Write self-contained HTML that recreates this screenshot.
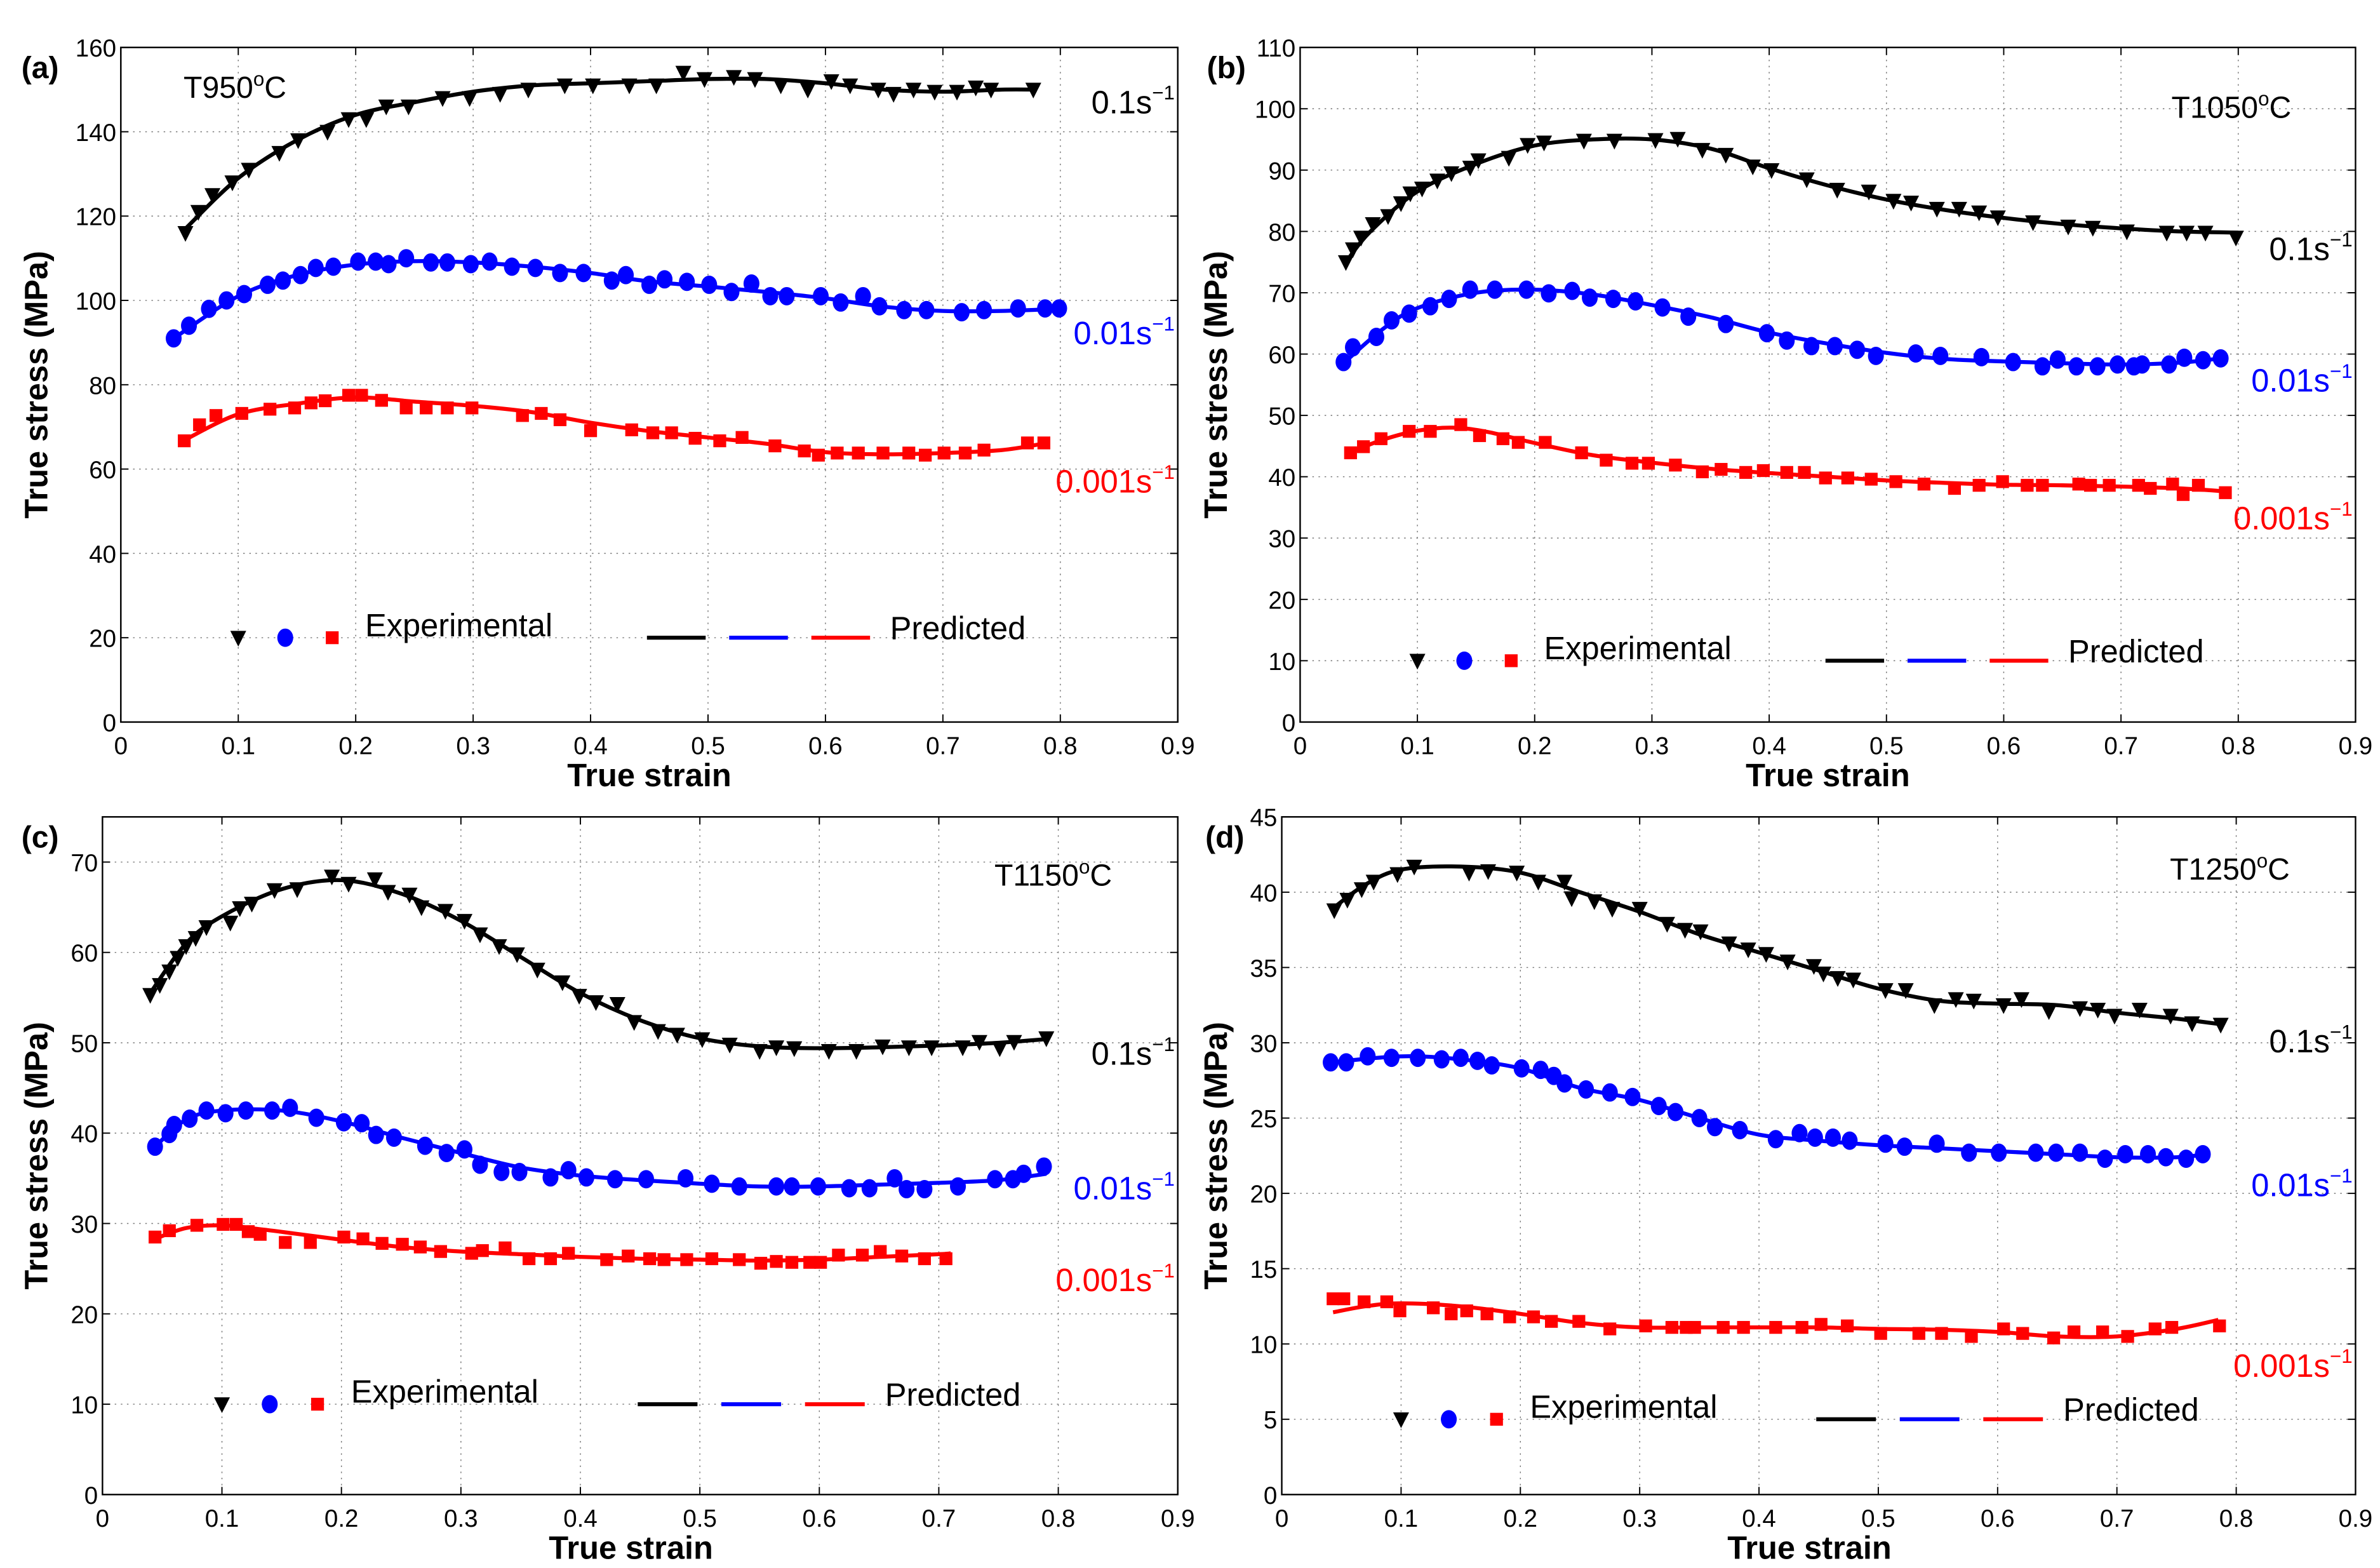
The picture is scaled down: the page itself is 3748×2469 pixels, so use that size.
<!DOCTYPE html>
<html><head><meta charset="utf-8"><style>
html,body{margin:0;padding:0;background:#fff}
svg{display:block}
text{font-family:"Liberation Sans",sans-serif}
</style></head><body>
<svg id="chart" xmlns="http://www.w3.org/2000/svg" width="3748" height="2469" viewBox="0 0 1556 1025"></svg>
<script>
// ---------- data ----------
const xTicks=[0,0.1,0.2,0.3,0.4,0.5,0.6,0.7,0.8,0.9];
// panel a (950C)
const aBlkX=[.055,.066,.078,.095,.109,.135,.151,.176,.194,.209,.226,.245,.274,.297,.323,.347,.378,.402,.433,.456,.479,.497,.522,.54,.562,.585,.605,.621,.645,.658,.675,.693,.712,.728,.741,.777];
const aBlkY=[116,121,125,128,131,135,138,140,143,143,146,146,148,148,149,150,151,151,151,151,154,152.5,153,152.5,151,150,152,151,150,149,150,149.5,149.5,150.5,150,150];
const aBluX=[.045,.058,.075,.09,.105,.125,.138,.153,.166,.181,.202,.217,.228,.243,.264,.278,.298,.314,.333,.353,.374,.394,.418,.43,.45,.463,.482,.501,.52,.537,.553,.567,.596,.613,.632,.646,.667,.686,.716,.735,.764,.787,.799];
const aBluY=[91,94,98,100,101.5,103.7,104.7,106,107.7,108,109.2,109.2,108.6,110,109,109,108.6,109.2,108,107.7,106.5,106.5,104.7,106,103.7,105,104.4,103.7,102,104,101,101,101,99.5,101,98.6,97.7,97.7,97.2,97.7,98.1,98.1,98.1];
const aRedX=[.054,.067,.081,.103,.127,.148,.162,.174,.194,.205,.222,.243,.26,.278,.299,.342,.358,.374,.4,.435,.453,.469,.489,.51,.529,.557,.582,.594,.61,.628,.649,.671,.685,.701,.719,.735,.772,.786];
const aRedY=[66.7,70.5,72.7,73.2,74.2,74.5,75.7,76.2,77.5,77.5,76.3,74.5,74.5,74.5,74.5,72.7,73.2,71.7,69.1,69.3,68.6,68.6,67.3,66.7,67.5,65.5,64.3,63.3,63.8,63.8,63.8,63.8,63.3,63.8,63.8,64.5,66.2,66.2];
const aPBlkX=[.055,.1,.15,.2,.25,.3,.35,.4,.45,.5,.55,.6,.65,.7,.75,.78];
const aPBlkY=[117,129,138,144,147,149.5,151,151.5,152,152.5,152.5,151.5,150,149.5,150,150];
const aPBluX=[.045,.1,.15,.2,.25,.3,.35,.4,.45,.5,.55,.6,.65,.7,.75,.8];
const aPBluY=[91,101,106,108.5,109.3,109,108,106.5,104.5,103.3,102,100.5,98.5,97.5,97.5,98];
const aPRedX=[.055,.1,.15,.2,.25,.3,.35,.4,.45,.5,.55,.6,.65,.7,.75,.785];
const aPRedY=[67,73,75.5,77,76,75,73.5,71,69,67.5,66,64,63.5,63.8,64.5,66];
// panel b (1050C)
const bBlkX=[.039,.045,.052,.062,.075,.086,.094,.104,.117,.129,.145,.152,.178,.194,.208,.242,.268,.303,.322,.343,.363,.386,.402,.432,.458,.485,.506,.521,.543,.562,.579,.595,.625,.655,.676,.705,.739,.756,.772,.798];
const bBlkY=[75,77.1,79,81.2,82.5,84.6,86.2,87,88.3,89.5,90.4,91.6,92,94.1,94.5,94.8,94.8,94.9,95.1,93.3,92.5,90.6,90,88.5,86.8,86.5,85,84.7,83.7,83.7,83.1,82.3,81.5,80.8,80.6,80,79.8,79.8,79.8,79];
const bBluX=[.037,.045,.065,.078,.093,.111,.127,.145,.166,.193,.212,.232,.247,.267,.286,.309,.331,.363,.398,.415,.436,.456,.475,.491,.525,.546,.581,.608,.633,.646,.662,.68,.697,.711,.718,.741,.754,.77,.785];
const bBluY=[58.7,61.1,62.8,65.5,66.6,67.8,69,70.5,70.5,70.5,69.9,70.3,69.2,69,68.6,67.6,66.1,64.9,63.4,62.2,61.3,61.3,60.7,59.7,60.1,59.7,59.5,58.7,58,59.1,58,58,58.3,58,58.3,58.3,59.4,59,59.3];
const bRedX=[.043,.054,.069,.093,.111,.137,.153,.173,.186,.209,.24,.261,.283,.297,.32,.343,.359,.38,.395,.415,.43,.448,.467,.487,.508,.532,.558,.579,.599,.62,.633,.664,.674,.69,.715,.725,.744,.753,.766,.789];
const bRedY=[43.9,44.9,46.2,47.4,47.4,48.5,46.7,46.2,45.6,45.6,43.9,42.7,42.2,42.2,41.9,40.8,41.2,40.7,41,40.7,40.7,39.8,39.8,39.6,39.2,38.8,38.1,38.6,39.2,38.6,38.6,38.8,38.6,38.6,38.6,38.1,38.8,37.1,38.6,37.4];
const bPBlkX=[.039,.06,.1,.15,.2,.25,.3,.35,.4,.45,.5,.55,.6,.65,.7,.75,.8];
const bPBlkY=[75,80,86.5,91,94,95,95,93.5,90.3,87.5,85.2,83.5,82.2,81.2,80.5,80,79.8];
const bPBluX=[.037,.07,.1,.15,.2,.25,.3,.35,.4,.45,.5,.55,.6,.65,.7,.75,.785];
const bPBluY=[58.5,64,67.5,70,70.5,69.7,68,66,63.5,61.7,60.2,59.2,58.8,58.5,58.3,58.6,59.3];
const bPRedX=[.043,.07,.1,.13,.16,.2,.25,.3,.35,.4,.45,.5,.55,.6,.65,.7,.75,.79];
const bPRedY=[44,46,47.5,48,47.3,45.5,43.5,42.3,41.3,40.6,40,39.4,39,38.7,38.6,38.4,38.1,37.6];
// panel c (1150C)
const cBlkX=[.04,.048,.056,.063,.07,.078,.087,.107,.115,.125,.144,.163,.192,.206,.228,.239,.257,.267,.287,.303,.316,.332,.347,.364,.385,.399,.413,.431,.445,.465,.481,.502,.525,.55,.564,.579,.608,.631,.653,.675,.694,.72,.734,.751,.763,.79];
const cBlkY=[55.3,56.4,57.9,59.4,60.7,61.6,62.8,63.3,64.9,65.4,66.9,67,68.4,67.6,68.1,66.7,66.4,65,64.6,63.5,62,60.7,59.8,58.1,56.7,55.2,54.5,54.3,52.3,51.3,50.9,50.4,49.8,49.1,49.5,49.4,49.1,49.1,49.6,49.5,49.5,49.5,50.1,49.4,50.1,50.5];
const cBluX=[.044,.056,.06,.073,.087,.103,.12,.142,.157,.179,.202,.217,.229,.244,.27,.288,.303,.316,.334,.349,.375,.39,.405,.429,.455,.488,.51,.533,.564,.577,.599,.625,.642,.663,.673,.688,.716,.747,.762,.771,.788];
const cBluY=[38.5,39.9,40.9,41.6,42.5,42.2,42.5,42.5,42.8,41.7,41.2,41.1,39.8,39.5,38.6,37.8,38.2,36.5,35.7,35.7,35.1,35.9,35.1,34.9,34.9,35,34.4,34.1,34.1,34.1,34.1,33.9,33.9,35,33.8,33.8,34.1,34.9,34.9,35.5,36.3];
const cRedX=[.044,.056,.079,.101,.112,.122,.132,.153,.174,.202,.218,.234,.251,.266,.283,.309,.318,.337,.357,.375,.39,.422,.44,.458,.47,.489,.51,.533,.551,.564,.577,.592,.601,.616,.636,.651,.669,.688,.706];
const cRedY=[28.5,29.2,29.8,29.9,29.9,29.1,28.8,27.9,27.9,28.5,28.3,27.8,27.7,27.4,26.9,26.7,27,27.3,26.1,26.1,26.7,26,26.4,26.1,26,26,26.1,26,25.6,25.8,25.7,25.7,25.7,26.5,26.5,26.9,26.4,26.1,26.1];
const cPBlkX=[.04,.07,.1,.15,.2,.25,.3,.35,.4,.45,.5,.55,.6,.65,.7,.75,.79];
const cPBlkY=[55.5,61,64,67,68,66.5,63.5,59.5,55.5,52.5,50.5,49.6,49.4,49.5,49.7,50,50.4];
const cPBluX=[.044,.07,.1,.15,.2,.25,.3,.35,.4,.45,.5,.55,.6,.65,.7,.75,.79];
const cPBluY=[38.5,41.5,42.5,42.5,41.3,39.5,37.8,36.2,35.3,34.8,34.4,34.1,34.1,34.3,34.5,34.8,35.5];
const cPRedX=[.044,.07,.1,.13,.16,.2,.25,.3,.35,.4,.45,.5,.55,.6,.65,.7,.71];
const cPRedY=[28.3,29.5,29.8,29.4,28.9,28.2,27.4,26.9,26.6,26.3,26.1,26,25.9,26,26.3,26.6,26.7];
// panel d (1250C)
const dBlkX=[.044,.055,.067,.077,.097,.111,.157,.173,.197,.215,.237,.243,.262,.277,.3,.323,.338,.351,.375,.391,.406,.424,.446,.454,.466,.479,.506,.523,.547,.565,.58,.605,.62,.643,.669,.684,.698,.719,.745,.763,.787];
const dBlkY=[38.8,39.5,40.2,40.7,41.2,41.7,41.3,41.4,41.3,40.7,40.7,39.6,39.4,38.9,38.9,37.9,37.5,37.4,36.6,36.2,35.9,35.4,35.1,34.6,34.3,34.2,33.5,33.5,32.5,32.9,32.8,32.5,32.9,32.1,32.3,32.2,31.8,32.2,31.8,31.3,31.2];
const dBluX=[.041,.054,.072,.092,.114,.134,.15,.164,.176,.201,.217,.228,.237,.255,.275,.294,.316,.33,.35,.363,.384,.414,.434,.447,.462,.476,.506,.522,.549,.576,.601,.632,.649,.669,.69,.707,.726,.741,.758,.772];
const dBluY=[28.7,28.7,29.1,29,29,28.9,29,28.8,28.5,28.3,28.2,27.8,27.3,26.9,26.7,26.4,25.8,25.4,25,24.4,24.2,23.6,24,23.7,23.7,23.5,23.3,23.1,23.3,22.7,22.7,22.7,22.7,22.7,22.3,22.6,22.6,22.4,22.3,22.6];
const dRedX=[.043,.052,.069,.088,.099,.127,.142,.155,.172,.191,.211,.226,.249,.275,.305,.327,.339,.346,.37,.387,.414,.436,.452,.474,.502,.534,.553,.578,.605,.621,.647,.664,.688,.709,.732,.746,.786];
const dRedY=[13,13,12.8,12.8,12.2,12.4,12,12.2,12,11.8,11.8,11.5,11.5,11,11.2,11.1,11.1,11.1,11.1,11.1,11.1,11.1,11.3,11.2,10.7,10.7,10.7,10.5,11,10.7,10.4,10.8,10.8,10.5,11,11.1,11.2];
const dPBlkX=[.044,.07,.1,.15,.2,.25,.3,.35,.4,.45,.5,.55,.6,.65,.7,.75,.79];
const dPBlkY=[39,40.5,41.5,41.7,41.3,40,38.7,37.2,36,34.8,33.6,32.8,32.6,32.5,32,31.6,31.2];
const dPBluX=[.041,.1,.15,.2,.25,.3,.35,.4,.45,.5,.55,.6,.65,.7,.75,.775];
const dPBluY=[28.7,29.1,28.9,28.3,27,26.2,25,23.9,23.5,23.2,23,22.8,22.6,22.4,22.4,22.6];
const dPRedX=[.043,.07,.1,.15,.2,.25,.3,.35,.4,.45,.5,.55,.6,.65,.7,.75,.785];
const dPRedY=[12.1,12.5,12.7,12.5,12,11.4,11.1,11.1,11.1,11.1,11,10.95,10.8,10.5,10.5,11,11.6];

const aYTicks=[0,20,40,60,80,100,120,140,160];
const bYTicks=[0,10,20,30,40,50,60,70,80,90,100,110];
const cYTicks=[0,10,20,30,40,50,60,70];
const dYTicks=[0,5,10,15,20,25,30,35,40,45];

const panels=[
 {id:'a',x0:79,x1:770,yT:31,yB:472,ymax:160,yt:aYTicks,temp:'T950',tx:120,ty:64,tAnchor:'start',legY:20,titleOff:55,letterX:14,
  rates:[[74,'#000'],[225,'#00f'],[322,'#f00']],
  exp:[[aBlkX,aBlkY],[aBluX,aBluY],[aRedX,aRedY]],pred:[[aPBlkX,aPBlkY],[aPBluX,aPBluY],[aPRedX,aPRedY]]},
 {id:'b',x0:850,x1:1540,yT:31,yB:472,ymax:110,yt:bYTicks,temp:'T1050',tx:1498,ty:77,tAnchor:'end',legY:10,titleOff:55,letterX:789,
  rates:[[170,'#000'],[256,'#00f'],[346,'#f00']],
  exp:[[bBlkX,bBlkY],[bBluX,bBluY],[bRedX,bRedY]],pred:[[bPBlkX,bPBlkY],[bPBluX,bPBluY],[bPRedX,bPRedY]]},
 {id:'c',x0:67,x1:770,yT:534,yB:977,ymax:75,yt:cYTicks,temp:'T1150',tx:727,ty:579,tAnchor:'end',legY:10,titleOff:43,letterX:14,
  rates:[[696,'#000'],[784,'#00f'],[844,'#f00']],
  exp:[[cBlkX,cBlkY],[cBluX,cBluY],[cRedX,cRedY]],pred:[[cPBlkX,cPBlkY],[cPBluX,cPBluY],[cPRedX,cPRedY]]},
 {id:'d',x0:838,x1:1540,yT:534,yB:977,ymax:45,yt:dYTicks,temp:'T1250',tx:1497,ty:575,tAnchor:'end',legY:5,titleOff:43,letterX:788,
  rates:[[688,'#000'],[782,'#00f'],[900,'#f00']],
  exp:[[dBlkX,dBlkY],[dBluX,dBluY],[dRedX,dRedY]],pred:[[dPBlkX,dPBlkY],[dPBluX,dPBluY],[dPRedX,dPRedY]]}
];
const colors=['#000','#00f','#f00'];
const rateTxt=['0.1s','0.01s','0.001s'];
const NS='http://www.w3.org/2000/svg';
const svg=document.getElementById('chart');
function mk(tag,attrs,parent){const e=document.createElementNS(NS,tag);for(const k in attrs)e.setAttribute(k,attrs[k]);(parent||svg).appendChild(e);return e;}
function smooth(pts){let d='M'+pts[0][0]+','+pts[0][1];for(let i=0;i<pts.length-1;i++){const p0=pts[Math.max(0,i-1)],p1=pts[i],p2=pts[i+1],p3=pts[Math.min(pts.length-1,i+2)];
 const c1=[p1[0]+(p2[0]-p0[0])/6,p1[1]+(p2[1]-p0[1])/6],c2=[p2[0]-(p3[0]-p1[0])/6,p2[1]-(p3[1]-p1[1])/6];
 d+=' C'+c1[0]+','+c1[1]+' '+c2[0]+','+c2[1]+' '+p2[0]+','+p2[1];}return d;}
function marker(g,k,x,y,c){
 let m;
 if(k===0){m=mk('path',{d:`M${x-5.2},${y-4.5} L${x+5.2},${y-4.5} L${x},${y+5.8} Z`,fill:c},g);}
 else if(k===1){m=mk('ellipse',{cx:x,cy:y,rx:5.2,ry:6,fill:c},g);}
 else {m=mk('rect',{x:x-4.2,y:y-4.2,width:8.4,height:8.4,fill:c},g);}
 return m;
}
panels.forEach(p=>{
 const g=mk('g',{});
 
 
 const sx=v=>p.x0+(p.x1-p.x0)*v/0.9, sy=v=>p.yB-(p.yB-p.yT)*v/p.ymax;
 xTicks.forEach(t=>{const X=sx(t);
  if(t>0&&t<0.9){const l=mk('line',{x1:X,x2:X,y1:p.yT,y2:p.yB,stroke:'#777','stroke-width':0.6,'stroke-dasharray':'1,3'},g);
   }
  mk('line',{x1:X,x2:X,y1:p.yB,y2:p.yB-5,stroke:'#000','stroke-width':0.8},g);
  mk('line',{x1:X,x2:X,y1:p.yT,y2:p.yT+5,stroke:'#000','stroke-width':0.8},g);
  const tl=mk('text',{x:X,y:p.yB+21,'text-anchor':'middle','font-size':16},g);tl.textContent=String(t);
  
 });
 p.yt.forEach(t=>{const Y=sy(t);
  if(t>0&&t<p.ymax){const l=mk('line',{x1:p.x0,x2:p.x1,y1:Y,y2:Y,stroke:'#777','stroke-width':0.6,'stroke-dasharray':'1,3'},g);
   }
  mk('line',{x1:p.x0,x2:p.x0+5,y1:Y,y2:Y,stroke:'#000','stroke-width':0.8},g);
  mk('line',{x1:p.x1,x2:p.x1-5,y1:Y,y2:Y,stroke:'#000','stroke-width':0.8},g);
  const tl=mk('text',{x:p.x0-3,y:Y+6,'text-anchor':'end','font-size':16},g);tl.textContent=String(t);
  
 });
 const box=mk('rect',{x:p.x0,y:p.yT,width:p.x1-p.x0,height:p.yB-p.yT,fill:'none',stroke:'#000','stroke-width':1},g);
 
 const xl=mk('text',{x:(p.x0+p.x1)/2-(p.id==='a'||p.id==='b'?0:6),y:p.yB+42,'text-anchor':'middle','font-size':21,'font-weight':'bold'},g);xl.textContent='True strain';
 
 const yc=(p.yT+p.yB)/2, yx=p.x0-p.titleOff+7;
 const yl=mk('text',{x:yx,y:yc,'text-anchor':'middle','font-size':21,'font-weight':'bold',transform:`rotate(-90 ${yx} ${yc})`},g);yl.textContent='True stress (MPa)';
 
 const pl=mk('text',{x:p.letterX,y:p.yT+20,'font-size':20,'font-weight':'bold'},g);pl.textContent='('+p.id+')';
 
 const tt=mk('text',{x:p.tx,y:p.ty,'text-anchor':p.tAnchor,'font-size':20},g);
 
 tt.appendChild(document.createTextNode(p.temp));
 const ts=mk('tspan',{'font-size':13,dy:-8},tt);ts.textContent='o';
 const ts2=mk('tspan',{dy:8},tt);ts2.textContent='C';
 p.rates.forEach((r,i)=>{
  const t=mk('text',{x:p.x1-2,y:r[0],'text-anchor':'end','font-size':21,fill:r[1]},g);
  
  t.appendChild(document.createTextNode(rateTxt[i]));
  const s=mk('tspan',{'font-size':13,dy:-9},t);s.textContent='\u22121';
 });
 p.pred.forEach((s,i)=>{
  const pts=s[0].map((v,j)=>[sx(v),sy(s[1][j])]);
  const l=mk('path',{d:smooth(pts),fill:'none',stroke:colors[i],'stroke-width':2.6,'stroke-linejoin':'round'},g);
  
  
 });
 p.exp.forEach((s,i)=>{
  s[0].forEach((v,j)=>{
   const m=marker(g,i,sx(v),sy(s[1][j]),colors[i]);
   
   
  });
 });
 const LY=sy(p.legY);
 [0.1,0.14,0.18].forEach((v,i)=>{const m=marker(g,i,sx(v),LY,colors[i]);
  });
 const le=mk('text',{x:sx(0.208),y:LY-1,'font-size':21},g);le.textContent='Experimental';
 
 [[0.448,0.498],[0.518,0.568],[0.588,0.638]].forEach((r,i)=>{
  const l=mk('line',{x1:sx(r[0]),x2:sx(r[1]),y1:LY,y2:LY,stroke:colors[i],'stroke-width':2.6},g);
  
 });
 const lp=mk('text',{x:sx(0.655),y:LY+1,'font-size':21},g);lp.textContent='Predicted';
 
});
</script>
</body></html>
